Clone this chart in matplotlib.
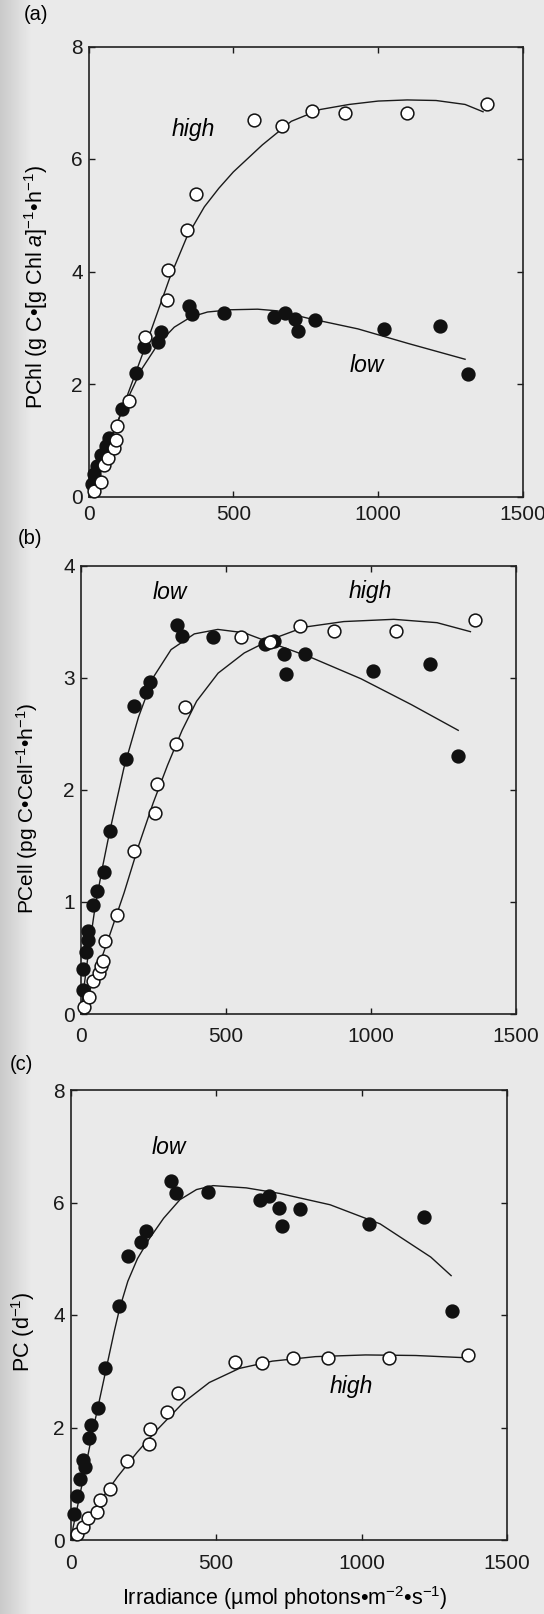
import matplotlib
matplotlib.use('Agg')
import matplotlib.pyplot as plt
import numpy as np

plt.rcParams['font.family'] = ['Liberation Sans', 'DejaVu Sans']
plt.rcParams['mathtext.fontset'] = 'custom'
plt.rcParams['mathtext.rm'] = 'Liberation Sans'
plt.rcParams['mathtext.it'] = 'Liberation Sans:italic'

# ---- (a) chlorophyll-normalised production ----
a_high_I = [20, 42, 53, 69, 87, 94, 100, 139, 194, 272, 275, 340, 372, 571, 668, 772, 885, 1100, 1374]
a_high_P = [0.10, 0.25, 0.56, 0.68, 0.86, 1.01, 1.26, 1.70, 2.84, 3.50, 4.03, 4.73, 5.37, 6.69, 6.58, 6.86, 6.81, 6.82, 6.98]
a_low_I = [12, 20, 30, 42, 59, 71, 114, 164, 192, 240, 251, 347, 359, 468, 639, 679, 713, 723, 782, 1019, 1213, 1310]
a_low_P = [0.23, 0.40, 0.55, 0.74, 0.89, 1.04, 1.56, 2.19, 2.66, 2.75, 2.92, 3.39, 3.24, 3.26, 3.19, 3.26, 3.15, 2.95, 3.13, 2.97, 3.03, 2.17]
a_high_fit_I = [0, 100, 200, 280, 340, 400, 450, 500, 600, 700, 800, 900, 1000, 1100, 1200, 1300, 1362]
a_high_fit_P = [0, 1.32, 2.72, 3.88, 4.62, 5.15, 5.48, 5.77, 6.25, 6.67, 6.88, 6.97, 7.03, 7.05, 7.04, 6.97, 6.84]
a_low_fit_I = [0, 50, 100, 128, 183, 240, 296, 353, 411, 492, 584, 653, 757, 930, 1104, 1300]
a_low_fit_P = [0, 0.68, 1.32, 1.66, 2.26, 2.71, 3.01, 3.19, 3.28, 3.32, 3.33, 3.30, 3.17, 2.98, 2.72, 2.44]

# ---- (b) cell-normalised production ----
b_high_I = [12, 29, 43, 64, 69, 78, 86, 125, 184, 257, 262, 328, 359, 554, 653, 757, 874, 1086, 1359]
b_high_P = [0.06, 0.15, 0.29, 0.37, 0.43, 0.47, 0.65, 0.88, 1.45, 1.79, 2.05, 2.41, 2.74, 3.36, 3.32, 3.46, 3.42, 3.42, 3.51]
b_low_I = [10, 10, 19, 26, 26, 43, 57, 80, 100, 156, 184, 225, 239, 333, 351, 456, 636, 665, 702, 708, 773, 1007, 1203, 1299]
b_low_P = [0.21, 0.40, 0.55, 0.66, 0.74, 0.97, 1.10, 1.27, 1.63, 2.27, 2.75, 2.87, 2.96, 3.47, 3.37, 3.36, 3.30, 3.33, 3.21, 3.03, 3.21, 3.06, 3.12, 2.30]
b_high_fit_I = [0, 50, 100, 150, 200, 250, 300, 350, 400, 474, 564, 656, 770, 907, 1079, 1228, 1343]
b_high_fit_P = [0, 0.33, 0.70, 1.08, 1.50, 1.88, 2.22, 2.53, 2.79, 3.04, 3.22, 3.34, 3.45, 3.50, 3.52, 3.49, 3.41]
b_low_fit_I = [0, 25, 50, 75, 100, 150, 200, 250, 312, 392, 473, 564, 656, 794, 966, 1139, 1301]
b_low_fit_P = [0, 0.50, 0.95, 1.30, 1.62, 2.20, 2.65, 3.00, 3.25, 3.39, 3.43, 3.40, 3.31, 3.18, 2.99, 2.76, 2.53]

# ---- (c) carbon-specific growth ----
c_high_I = [23, 43, 61, 90, 101, 135, 195, 271, 273, 332, 369, 565, 658, 765, 884, 1094, 1365]
c_high_P = [0.11, 0.24, 0.40, 0.50, 0.72, 0.90, 1.41, 1.70, 1.97, 2.28, 2.61, 3.16, 3.15, 3.24, 3.23, 3.23, 3.29]
c_low_I = [11, 22, 32, 43, 49, 62, 69, 95, 118, 167, 196, 243, 258, 346, 361, 473, 651, 682, 718, 727, 787, 1025, 1214, 1311]
c_low_P = [0.46, 0.78, 1.08, 1.43, 1.30, 1.81, 2.05, 2.35, 3.05, 4.16, 5.05, 5.29, 5.49, 6.38, 6.17, 6.18, 6.05, 6.11, 5.90, 5.58, 5.89, 5.62, 5.74, 4.07]
c_high_fit_I = [0, 50, 100, 161, 229, 296, 387, 477, 580, 694, 842, 1014, 1186, 1358]
c_high_fit_P = [0, 0.33, 0.68, 1.12, 1.56, 1.95, 2.44, 2.80, 3.05, 3.18, 3.26, 3.29, 3.28, 3.24]
c_low_fit_I = [0, 25, 50, 75, 100, 125, 150, 169, 197, 230, 270, 320, 376, 433, 490, 604, 720, 892, 1064, 1238, 1308]
c_low_fit_P = [0, 0.62, 1.25, 1.90, 2.50, 3.10, 3.70, 4.12, 4.60, 5.00, 5.35, 5.72, 6.05, 6.23, 6.30, 6.26, 6.16, 5.96, 5.62, 5.03, 4.70]

x_ticks = [0, 500, 1000, 1500]

W, H = 544, 1614
fig = plt.figure(figsize=(W / 100, H / 100), dpi=100, facecolor='#e9e9e9')

# scanned-page tint, darker towards the binding on the left
bg = fig.add_axes([0, 0, 1, 1], zorder=-10)
shade = np.clip(np.linspace(0.79, 1.6, 200), 0, 0.915)[None, :]
bg.imshow(shade, extent=[0, 200 / W, 0, 1], aspect='auto', cmap='gray', vmin=0, vmax=1)
bg.set_xlim(0, 1); bg.set_ylim(0, 1); bg.axis('off')


def box(l, t, r, b):
    return [l / W, 1 - b / H, (r - l) / W, (b - t) / H]


def panel(rect, hi_I, hi_P, lo_I, lo_P, hf_I, hf_P, lf_I, lf_P, ymax, yticks, xpad):
    ax = fig.add_axes(box(*rect))
    ax.set_facecolor('none')
    ax.plot(hf_I, hf_P, '-', color='#1a1a1a', lw=1.0, zorder=2)
    ax.plot(lf_I, lf_P, '-', color='#1a1a1a', lw=1.0, zorder=2)
    ax.plot(lo_I, lo_P, 'o', ms=9.2, mfc='#111111', mec='#111111', mew=1.1, clip_on=False, zorder=3)
    ax.plot(hi_I, hi_P, 'o', ms=9.2, mfc='white', mec='#111111', mew=1.1, clip_on=False, zorder=4)
    ax.set_xlim(0, 1500)
    ax.set_ylim(0, ymax)
    ax.set_xticks(x_ticks)
    ax.set_yticks(yticks)
    ax.tick_params(direction='in', length=4.5, width=1.0, top=True, right=True,
                   labelsize=15, colors='#1a1a1a')
    ax.tick_params(axis='x', pad=xpad)
    ax.tick_params(axis='y', pad=4)
    for s in ax.spines.values():
        s.set_linewidth(1.2)
        s.set_color('#222222')
    return ax


lab = dict(style='italic', fontsize=16.5, ha='center', va='center')

ax_a = panel((88.5, 46.5, 523, 496.5), a_high_I, a_high_P, a_low_I, a_low_P,
             a_high_fit_I, a_high_fit_P, a_low_fit_I, a_low_fit_P, 8, [0, 2, 4, 6, 8], 6)
ax_a.text(363, 6.52, 'high', **lab)
ax_a.text(960, 2.32, 'low', **lab)

ax_b = panel((80.5, 565.5, 516, 1014), b_high_I, b_high_P, b_low_I, b_low_P,
             b_high_fit_I, b_high_fit_P, b_low_fit_I, b_low_fit_P, 4, [0, 1, 2, 3, 4], 9)
ax_b.text(308, 3.76, 'low', **lab)
ax_b.text(998, 3.77, 'high', **lab)

ax_c = panel((70.5, 1090, 507, 1540), c_high_I, c_high_P, c_low_I, c_low_P,
             c_high_fit_I, c_high_fit_P, c_low_fit_I, c_low_fit_P, 8, [0, 2, 4, 6, 8], 10)
ax_c.text(337, 6.97, 'low', **lab)
ax_c.text(965, 2.72, 'high', **lab)


def ftext(x, y, s, **kw):
    fig.text(x / W, 1 - y / H, s, **kw)


ftext(36, 15, '(a)', fontsize=14.5, ha='center', va='center')
ftext(30, 539, '(b)', fontsize=14.5, ha='center', va='center')
ftext(21, 1064, '(c)', fontsize=14.5, ha='center', va='center')

ftext(36, 287, r'PChl (g C•[g Chl $\mathit{a}$]$^{-1}$•h$^{-1}$)', fontsize=15.5,
      rotation=90, ha='center', va='center')
ftext(27, 808, r'PCell (pg C•Cell$^{-1}$•h$^{-1}$)', fontsize=15,
      rotation=90, ha='center', va='center')
ftext(23, 1332, r'PC (d$^{-1}$)', fontsize=15.5, rotation=90, ha='center', va='center')
ftext(285, 1598, r'Irradiance (µmol photons•m$^{-2}$•s$^{-1}$)', fontsize=15.5,
      ha='center', va='center')

fig.savefig('out.png', dpi=100, facecolor=fig.get_facecolor())
